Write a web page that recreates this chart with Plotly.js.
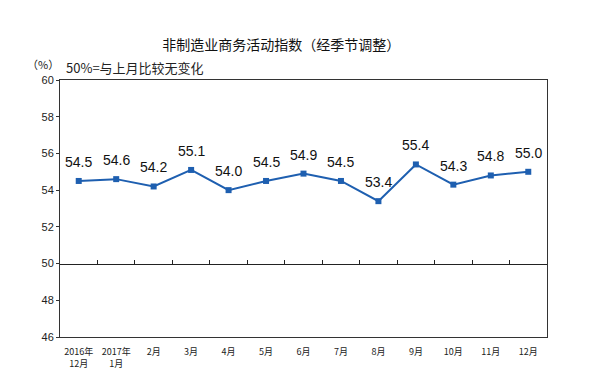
<!DOCTYPE html>
<html>
<head>
<meta charset="utf-8">
<script src="https://cdn.plot.ly/plotly-3.0.1.min.js"></script>
<style>html,body{margin:0;padding:0;background:#fff;}#chart{width:591px;height:389px;}</style>
</head>
<body>
<div id="chart"></div>
<script>
var categories = ["2016年<br>12月","2017年<br>1月","2月","3月","4月","5月","6月","7月","8月","9月","10月","11月","12月"];
var values = [54.5, 54.6, 54.2, 55.1, 54.0, 54.5, 54.9, 54.5, 53.4, 55.4, 54.3, 54.8, 55.0];
var yTicks = [46, 48, 50, 52, 54, 56, 58, 60];
var baseline = 50;
var titleText = "非制造业商务活动指数（经季节调整）";
var noteText = "50%=与上月比较无变化";
var unitText = "（%）";

var cjk = "Noto Sans CJK SC, sans-serif";
var lineColor = "#1E5FB0";

var traces = [
  {
    x: categories, y: values, type: "scatter", mode: "lines+markers",
    line: {color: lineColor, width: 2},
    marker: {symbol: "square", size: 6, color: lineColor},
    hoverinfo: "skip", xaxis: "x", yaxis: "y"
  },
  {
    x: categories, y: values, type: "scatter", mode: "none",
    hoverinfo: "skip", xaxis: "x2", yaxis: "y", showlegend: false
  }
];

var annotations = values.map(function(v, i){
  return {x: categories[i], y: v, xref: "x", yref: "y", text: v.toFixed(1),
    showarrow: false, yshift: 19,
    font: {family: "Liberation Sans, Arial, sans-serif", size: 14, color: "#111"}};
});
annotations.push({xref: "paper", yref: "paper", x: 0.008, y: 1.047, xanchor: "left", yanchor: "middle",
  text: noteText, showarrow: false, font: {family: cjk, size: 13, color: "#222"}});
annotations.push({xref: "paper", yref: "paper", x: -0.072, y: 1.064, xanchor: "left", yanchor: "middle",
  text: unitText, showarrow: false, font: {family: cjk, size: 11, color: "#222"}});

var layout = {
  width: 591, height: 389,
  margin: {l: 60, r: 44, t: 80, b: 52},
  paper_bgcolor: "#fff", plot_bgcolor: "#fff",
  showlegend: false,
  title: {text: titleText, x: 0.476, xanchor: "center", y: 0.885, yanchor: "middle",
    font: {family: cjk, size: 14, color: "#111"}},
  xaxis: {
    type: "category", categoryorder: "array", categoryarray: categories,
    range: [-0.5, categories.length - 0.5],
    showline: true, linecolor: "#333", linewidth: 1, mirror: true,
    ticks: "", showgrid: false, zeroline: false,
    tickfont: {family: cjk, size: 9, color: "#222"}, ticklabelstandoff: 6
  },
  xaxis2: {
    type: "category", categoryorder: "array", categoryarray: categories,
    overlaying: "x", anchor: "free",
    position: (baseline - yTicks[0]) / (yTicks[yTicks.length-1] - yTicks[0]),
    range: [-0.5, categories.length - 0.5],
    showline: true, linecolor: "#222", linewidth: 1,
    ticks: "inside", tickson: "boundaries", ticklen: 4, tickcolor: "#222",
    showticklabels: false, showgrid: false, zeroline: false
  },
  yaxis: {
    range: [yTicks[0], yTicks[yTicks.length-1]], tickvals: yTicks,
    showline: true, linecolor: "#333", linewidth: 1, mirror: true,
    ticks: "outside", ticklen: 3, tickcolor: "#333",
    showgrid: false, zeroline: false,
    tickfont: {family: "Liberation Sans, Arial, sans-serif", size: 11, color: "#222"}
  },
  annotations: annotations
};

Plotly.newPlot("chart", traces, layout, {staticPlot: true, displayModeBar: false});
</script>
</body>
</html>
